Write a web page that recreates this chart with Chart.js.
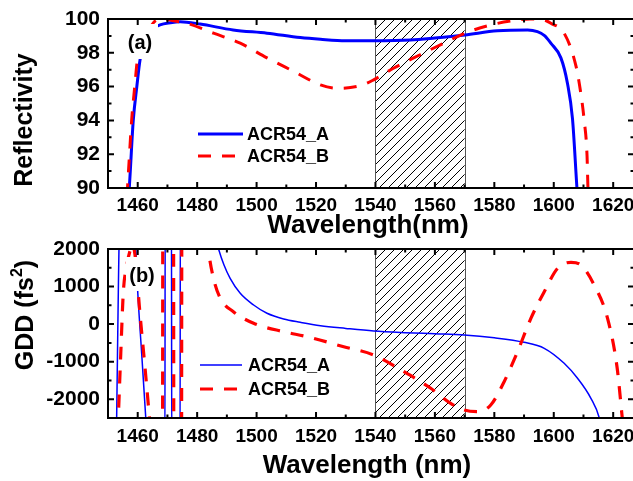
<!DOCTYPE html>
<html>
<head>
<meta charset="utf-8">
<script src="https://cdn.jsdelivr.net/npm/chart.js@4.4.0/dist/chart.umd.min.js"></script>
<style>
html, body { margin: 0; padding: 0; background: #fff; overflow: hidden; }
#wrap { position: relative; width: 633px; height: 481px; overflow: hidden; }
#c1 { position: absolute; left: 0; top: 0; }
#c2 { position: absolute; left: 0; top: 230px; }
</style>
</head>
<body>
<div id="wrap">
  <canvas id="c1" width="640" height="240"></canvas>
  <canvas id="c2" width="640" height="251"></canvas>
</div>
<script>
// axes
const wlTicks = [1460, 1480, 1500, 1520, 1540, 1560, 1580, 1600, 1620];
const wlMinor = [1470, 1490, 1510, 1530, 1550, 1570, 1590, 1610];
const reflTicks = [90, 92, 94, 96, 98, 100];
const reflMinor = [91, 93, 95, 97, 99];
const gddTicks = [-2000, -1000, 0, 1000, 2000];
const gddMinor = [-1500, -500, 500, 1500];
const bandNm = [1540, 1570];
const seriesNames = ['ACR54_A', 'ACR54_B'];

// (a) reflectivity (%)
const reflA_wl = [1457.0, 1457.5, 1458.5, 1459.7, 1460.8, 1462.5, 1465.0, 1467.5, 1471.0, 1474.3, 1481.0, 1492.1, 1503.5, 1514.7, 1521.5, 1530.0, 1539.4, 1551.8, 1560.0, 1570.1, 1581.0, 1591.2, 1594.5, 1597.0, 1599.0, 1602.4, 1604.6, 1606.3, 1607.8, 1608.0];
const reflA    = [89.5, 91.0, 94.0, 96.0, 97.6, 98.7, 99.4, 99.65, 99.78, 99.84, 99.7, 99.35, 99.16, 98.9, 98.8, 98.72, 98.72, 98.76, 98.88, 99.06, 99.3, 99.35, 99.25, 99.0, 98.57, 97.7, 96.2, 94.1, 90.0, 89.5];
const reflB_wl = [1456.4, 1456.9, 1458.0, 1459.0, 1459.9, 1462.0, 1464.5, 1466.4, 1469.0, 1472.0, 1476.5, 1485.5, 1494.5, 1503.5, 1512.5, 1521.5, 1527.1, 1535.0, 1539.4, 1546.2, 1555.2, 1563.0, 1570.1, 1578.8, 1587.8, 1592.0, 1596.8, 1599.0, 1603.5, 1607.5, 1609.1, 1610.2, 1611.2, 1611.5, 1611.6];
const reflB    = [89.5, 91.0, 94.1, 96.0, 97.6, 98.8, 99.6, 99.94, 100.0, 99.9, 99.75, 99.16, 98.57, 97.7, 96.9, 96.1, 95.9, 96.06, 96.4, 97.1, 97.9, 98.57, 99.16, 99.65, 99.94, 100.0, 99.94, 99.75, 99.16, 97.2, 95.6, 94.06, 91.9, 90.0, 89.5];

// (b) GDD (fs^2)
const gddA_wl = [1452.73, 1454.1, 1456.5, 1459.1, 1459.44, 1460.0, 1461.33, 1462.71, 1463.5, 1469.15, 1469.25, 1471.35, 1471.45, 1474.25, 1474.35, 1486.2, 1487.2, 1489.0, 1491.1, 1494.5, 1499.0, 1503.5, 1509.1, 1514.7, 1521.5, 1530.0, 1539.4, 1550.0, 1560.0, 1569.8, 1580.0, 1590.0, 1596.8, 1603.5, 1608.0, 1612.5, 1615.3, 1617.0];
const gddA    = [-3500, 3500, 5000, 2600, 1850, 866, -778, -2500, -3500, -3500, 3500, 3500, -3500, -3500, 3500, 2300, 2000, 1580, 1219, 820, 509, 288, 136, 48, -43, -115, -184, -228, -258, -290, -365, -485, -644, -1044, -1443, -1976, -2492, -3200];
const gddB_wl = [1453.0, 1454.3, 1455.16, 1456.3, 1457.4, 1458.3, 1459.3, 1460.56, 1462.5, 1463.92, 1465.1, 1468.35, 1468.45, 1472.05, 1472.15, 1474.75, 1474.85, 1483.3, 1483.8, 1485.5, 1487.8, 1492.2, 1499.0, 1509.1, 1517.0, 1529.3, 1539.4, 1549.6, 1558.6, 1565.3, 1569.8, 1574.3, 1578.8, 1583.3, 1587.8, 1592.3, 1596.8, 1601.3, 1605.8, 1609.1, 1613.6, 1618.1, 1621.3, 1622.9, 1624.3];
const gddB    = [-3500, -778, 855, 1550, 1950, 2100, 1700, 463, -1200, -2465, -3500, -3500, 3500, 3500, -3500, -3500, 3500, 2500, 2000, 1219, 687, 330, 21, -202, -335, -602, -823, -1267, -1709, -2109, -2287, -2332, -2154, -1534, -735, 154, 863, 1486, 1645, 1574, 1041, 154, -1150, -2375, -3500];

const FONT = "'Liberation Sans', Arial, sans-serif";
const BLUE = '#0000ff';
const RED = '#ff0000';

function toXY(xs, ys) {
  return xs.map((v, i) => ({ x: v, y: ys[i] }));
}

let hatch = null;
function hatchPattern(ctx) {
  if (hatch) return hatch;
  const p = document.createElement('canvas');
  p.width = 9; p.height = 9;
  const g = p.getContext('2d');
  g.strokeStyle = '#000';
  g.lineWidth = 1;
  g.beginPath();
  g.moveTo(0, 9); g.lineTo(9, 0);
  g.moveTo(-1, 1); g.lineTo(1, -1);
  g.moveTo(8, 10); g.lineTo(10, 8);
  g.stroke();
  hatch = ctx.createPattern(p, 'repeat');
  return hatch;
}

// hatched band, frame with inward ticks, legend, tags and axis titles
const decor = {
  id: 'decor',
  beforeDatasetsDraw(chart) {
    const { ctx, chartArea: a, scales: { x } } = chart;
    const x0 = x.getPixelForValue(bandNm[0]);
    const x1 = x.getPixelForValue(bandNm[1]);
    ctx.save();
    ctx.fillStyle = hatchPattern(ctx);
    ctx.fillRect(x0, a.top, x1 - x0, a.height);
    ctx.strokeStyle = '#555';
    ctx.lineWidth = 1;
    ctx.beginPath();
    ctx.moveTo(Math.round(x0) + 0.5, a.top); ctx.lineTo(Math.round(x0) + 0.5, a.bottom);
    ctx.moveTo(Math.round(x1) + 0.5, a.top); ctx.lineTo(Math.round(x1) + 0.5, a.bottom);
    ctx.stroke();
    ctx.restore();
  },
  afterDatasetsDraw(chart, args, o) {
    const { ctx, chartArea: a, scales: { x, y } } = chart;
    ctx.save();

    // panel tag on a white patch
    ctx.fillStyle = '#fff';
    ctx.fillRect(o.tagBox[0], o.tagBox[1], o.tagBox[2], o.tagBox[3]);
    ctx.fillStyle = '#000';
    ctx.font = 'bold 20px ' + FONT;
    ctx.textAlign = 'center';
    ctx.textBaseline = 'middle';
    ctx.fillText(o.tag, o.tagX, o.tagY);

    // legend
    ctx.font = 'bold 18px ' + FONT;
    ctx.textAlign = 'left';
    chart.data.datasets.forEach((ds, i) => {
      const ly = o.legY[i];
      ctx.strokeStyle = ds.borderColor;
      ctx.lineWidth = ds.borderWidth;
      ctx.setLineDash(ds.borderDash || []);
      ctx.beginPath();
      ctx.moveTo(o.legX0, ly);
      ctx.lineTo(ds.borderDash ? o.legX0 + 38 : o.legX1, ly);
      ctx.stroke();
      ctx.setLineDash([]);
      ctx.fillStyle = '#000';
      ctx.fillText(ds.label, o.legText, ly + 1);
    });

    // frame
    ctx.strokeStyle = '#000';
    ctx.lineWidth = 2;
    ctx.strokeRect(a.left, a.top, a.width, a.height);

    // inward ticks on all sides
    const xt = (vals, len) => vals.forEach(v => {
      const px = x.getPixelForValue(v);
      ctx.beginPath();
      ctx.moveTo(px, a.bottom); ctx.lineTo(px, a.bottom - len);
      ctx.moveTo(px, a.top); ctx.lineTo(px, a.top + len);
      ctx.stroke();
    });
    const yt = (vals, len) => vals.forEach(v => {
      const py = y.getPixelForValue(v);
      ctx.beginPath();
      ctx.moveTo(a.left, py); ctx.lineTo(a.left + len, py);
      ctx.moveTo(a.right, py); ctx.lineTo(a.right - len, py);
      ctx.stroke();
    });
    xt(wlTicks, 6); xt(wlMinor, 3.5);
    yt(o.yMajor, 6); yt(o.yMinor, 3.5);

    // axis titles
    ctx.fillStyle = '#000';
    ctx.font = 'bold 26px ' + FONT;
    ctx.textAlign = 'center';
    ctx.textBaseline = 'middle';
    ctx.fillText(o.xTitle, o.xTitleX, o.xTitleY);

    ctx.translate(o.yTitleX, o.yTitleY);
    ctx.rotate(-Math.PI / 2);
    const big = 'bold 25px ' + FONT, small = 'bold 16px ' + FONT;
    let total = 0;
    o.yTitle.forEach(p => { ctx.font = p.sup ? small : big; total += ctx.measureText(p.t).width; });
    let cx = -total / 2;
    ctx.textAlign = 'left';
    o.yTitle.forEach(p => {
      ctx.font = p.sup ? small : big;
      ctx.fillText(p.t, cx, p.sup ? -8 : 0);
      cx += ctx.measureText(p.t).width;
    });
    ctx.restore();
  }
};

function panel(id, cfg) {
  return new Chart(document.getElementById(id), {
    type: 'line',
    data: { datasets: cfg.datasets },
    options: {
      responsive: false,
      animation: false,
      layout: { padding: { top: 19, right: 6, left: 0, bottom: 0 } },
      elements: { point: { radius: 0 }, line: { cubicInterpolationMode: 'monotone' } },
      plugins: { legend: { display: false }, tooltip: { enabled: false }, decor: cfg.decor },
      scales: {
        x: {
          type: 'linear', min: 1450, max: 1627,
          afterBuildTicks: s => { s.ticks = wlTicks.map(v => ({ value: v })); },
          afterFit: s => { s.height = cfg.xAxisH; s.paddingLeft = 0; s.paddingRight = 0; },
          grid: { display: false, drawTicks: false },
          border: { display: false },
          ticks: { color: '#000', padding: cfg.xPad, maxRotation: 0, autoSkip: false,
                   callback: v => String(v),
                   font: { family: FONT, size: 19, weight: 'bold' } }
        },
        y: {
          type: 'linear', min: cfg.yMin, max: cfg.yMax,
          afterBuildTicks: s => { s.ticks = cfg.yTicks.map(v => ({ value: v })); },
          afterFit: s => { s.width = 108; s.paddingTop = 0; s.paddingBottom = 0; },
          grid: { display: false, drawTicks: false },
          border: { display: false },
          ticks: { color: '#000', padding: 8, autoSkip: false,
                   callback: v => String(v),
                   font: { family: FONT, size: 21, weight: 'bold' } }
        }
      }
    },
    plugins: [decor]
  });
}

function line(label, xs, ys, color, width, dashed, order) {
  return {
    label: label,
    data: toXY(xs, ys),
    borderColor: color,
    borderWidth: width,
    borderDash: dashed ? [13, 11] : undefined,
    borderJoinStyle: 'round',
    fill: false,
    pointRadius: 0,
    order: order
  };
}

panel('c1', {
  datasets: [
    line(seriesNames[0], reflA_wl, reflA, BLUE, 3, false, 1),
    line(seriesNames[1], reflB_wl, reflB, RED, 3, true, 0)
  ],
  yMin: 90, yMax: 100, yTicks: reflTicks, xAxisH: 52, xPad: 6,
  decor: {
    tag: '(a)', tagX: 140, tagY: 43, tagBox: [126, 24, 32, 35],
    legX0: 198, legX1: 243, legText: 247, legY: [134, 156],
    yMajor: reflTicks, yMinor: reflMinor,
    xTitle: 'Wavelength(nm)', xTitleX: 368, xTitleY: 226,
    yTitle: [{ t: 'Reflectivity' }], yTitleX: 25, yTitleY: 120
  }
});

panel('c2', {
  datasets: [
    line(seriesNames[0], gddA_wl, gddA, BLUE, 1.5, false, 1),
    line(seriesNames[1], gddB_wl, gddB, RED, 3.2, true, 0)
  ],
  yMin: -2500, yMax: 2000, yTicks: gddTicks, xAxisH: 63, xPad: 7,
  decor: {
    tag: '(b)', tagX: 142, tagY: 46, tagBox: [126, 27, 32, 34],
    legX0: 200, legX1: 242, legText: 248, legY: [135, 159],
    yMajor: gddTicks, yMinor: gddMinor,
    xTitle: 'Wavelength (nm)', xTitleX: 367, xTitleY: 236,
    yTitle: [{ t: 'GDD (fs' }, { t: '2', sup: true }, { t: ')' }], yTitleX: 26, yTitleY: 85
  }
});
</script>
</body>
</html>
